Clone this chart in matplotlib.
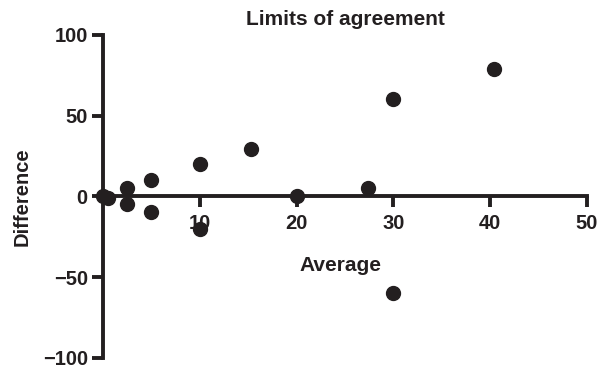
import matplotlib
matplotlib.use("Agg")
import matplotlib.pyplot as plt

average = [0, 0.5, 2.5, 2.5, 5, 5, 10, 10, 15.3, 20, 27.4, 30, 30, 40.4]
difference = [0, -1, 5, -5, 10, -10, 20, -20, 29, 0, 5, 60, -60, 79]
xticks = [10, 20, 30, 40, 50]
yticks = [-100, -50, 0, 50, 100]
ytick_labels = ["\u2212100", "\u221250", "0", "50", "100"]

plt.rcParams['font.family'] = ['Liberation Sans', 'DejaVu Sans']
fig = plt.figure(figsize=(5.99, 3.70), dpi=100)
ax = fig.add_axes([0.172, 0.033, 0.808, 0.873])

ax.scatter(average, difference, s=100, color='#231f20', zorder=3, clip_on=False)

ax.set_xlim(0, 50)
ax.set_ylim(-100, 100)
ax.spines['top'].set_visible(False)
ax.spines['right'].set_visible(False)
ax.spines['bottom'].set_position(('data', 0))
for sp in ('left', 'bottom'):
    ax.spines[sp].set_linewidth(2.8)
    ax.spines[sp].set_color('#231f20')
    ax.spines[sp].set_capstyle('projecting')

ax.set_xticks(xticks)
ax.set_xticklabels([str(t) for t in xticks])
ax.set_yticks(yticks)
ax.set_yticklabels(ytick_labels)
ax.tick_params(axis='both', direction='out', length=8, width=2.8, color='#231f20',
               labelsize=14.5)
ax.tick_params(axis='x', pad=5)
ax.tick_params(axis='y', pad=3)
for lab in ax.get_xticklabels() + ax.get_yticklabels():
    lab.set_fontweight('bold')
    lab.set_color('#231f20')

ax.set_title("Limits of agreement", fontsize=15, fontweight='bold', color='#231f20', pad=7)
ax.text(24.5, -43, "Average", fontsize=15, fontweight='bold', color='#231f20',
        ha='center', va='center')
ax.set_ylabel("Difference", fontsize=14.5, fontweight='bold', color='#231f20', labelpad=8)

fig.savefig("out.png", dpi=100)
